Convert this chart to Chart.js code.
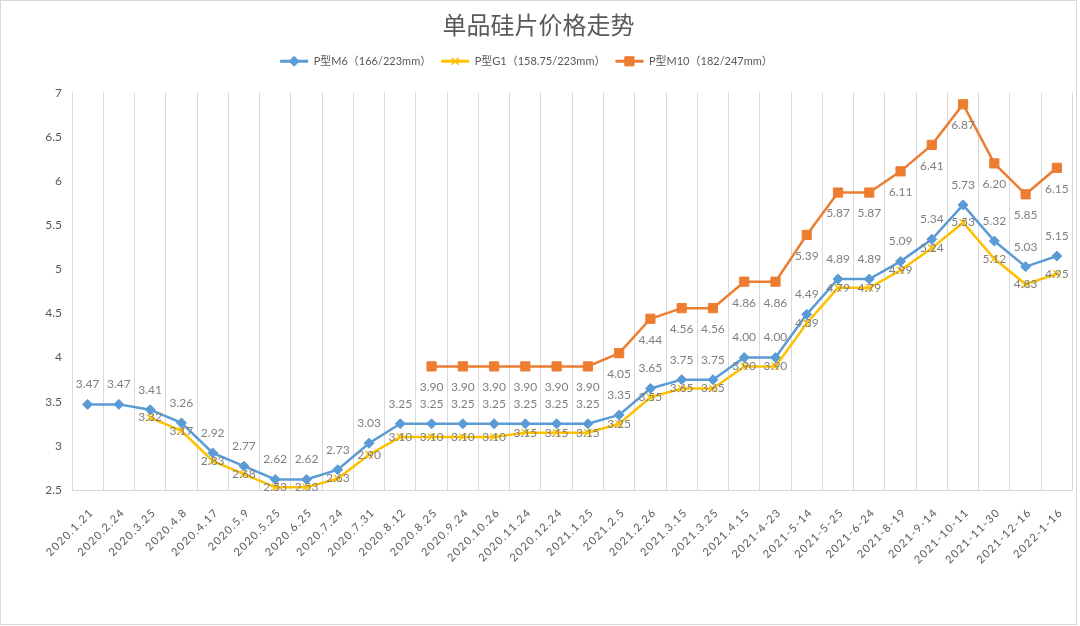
<!DOCTYPE html>
<html>
<head>
<meta charset="utf-8">
<script src="https://cdn.jsdelivr.net/npm/chart.js@4/dist/chart.umd.min.js"></script>
<style>
html,body{margin:0;padding:0;background:#fff;}
#wrap{position:relative;width:1080px;height:626px;}
</style>
</head>
<body>
<div id="wrap"><canvas id="c"></canvas></div>
<script>
const categories = ['2020.1.21','2020.2.24','2020.3.25','2020.4.8','2020.4.17','2020.5.9','2020.5.25','2020.6.25','2020.7.24','2020.7.31','2020.8.12','2020.8.25','2020.9.24','2020.10.26','2020.11.24','2020.12.24','2021.1.25','2021.2.5','2021.2.26','2021.3.15','2021.3.25','2021.4.15','2021-4-23','2021-5-14','2021-5-25','2021-6-24','2021-8-19','2021-9-14','2021-10-11','2021-11-30','2021-12-16','2022-1-16'];
const m6Values = [3.47,3.47,3.41,3.26,2.92,2.77,2.62,2.62,2.73,3.03,3.25,3.25,3.25,3.25,3.25,3.25,3.25,3.35,3.65,3.75,3.75,4.00,4.00,4.49,4.89,4.89,5.09,5.34,5.73,5.32,5.03,5.15];
const g1Values = [null,null,3.32,3.17,2.83,2.68,2.53,2.53,2.63,2.90,3.10,3.10,3.10,3.10,3.15,3.15,3.15,3.25,3.55,3.65,3.65,3.90,3.90,4.39,4.79,4.79,4.99,5.24,5.53,5.12,4.83,4.95];
const m10Values = [null,null,null,null,null,null,null,null,null,null,null,3.90,3.90,3.90,3.90,3.90,3.90,4.05,4.44,4.56,4.56,4.86,4.86,5.39,5.87,5.87,6.11,6.41,6.87,6.20,5.85,6.15];
const seriesNames = ['P型M6（166/223mm）','P型G1（158.75/223mm）','P型M10（182/247mm）'];
const yTicks = [2.5,3,3.5,4,4.5,5,5.5,6,6.5,7];
const titleText = '单品硅片价格走势';

const COLORS = ['#5b9bd5','#ffc000','#ed7d31'];
const LABEL_OFFSETS = [-20, 0, 21];
const FONT = "Lato, 'Noto Sans CJK SC', sans-serif";
const LEGEND_SHIFT = -12;

const spacerPlugin = {
  id: 'spacer',
  beforeInit(chart) {
    const box = {
      position: 'top', weight: 0, fullSize: true, options: {},
      left: 0, top: 0, right: 0, bottom: 0, width: 0, height: 0,
      isHorizontal() { return true; },
      update(maxWidth) { this.width = maxWidth; this.height = 16; },
      draw() {}
    };
    Chart.layouts.addBox(chart, box);
  }
};

const framePlugin = {
  id: 'frame',
  beforeDraw(chart) {
    const ctx = chart.ctx;
    ctx.save();
    ctx.fillStyle = '#fff';
    ctx.fillRect(0, 0, chart.width, chart.height);
    ctx.strokeStyle = '#d9d9d9';
    ctx.lineWidth = 1;
    ctx.strokeRect(0.5, 0.5, 1076, 624);
    ctx.restore();
    const xs = chart.scales.x;
    if (xs && !xs._lsPatched) {
      const orig = xs.drawLabels;
      xs.drawLabels = function(ca) {
        const c = this.ctx;
        c.save();
        c.letterSpacing = '1.3px';
        orig.call(this, ca);
        c.restore();
      };
      xs._lsPatched = true;
    }
    const lg = chart.legend;
    if (lg && !lg._shiftPatched) {
      const origDraw = lg.draw;
      lg.draw = function(ca) {
        const c = this.ctx;
        c.save();
        c.translate(LEGEND_SHIFT, 0);
        origDraw.call(this, ca);
        c.restore();
      };
      lg._shiftPatched = true;
    }
  }
};

const valueLabelPlugin = {
  id: 'valueLabels',
  afterDatasetsDraw(chart) {
    const ctx = chart.ctx;
    ctx.save();
    ctx.font = '12px ' + FONT;
    ctx.fillStyle = '#7f7f7f';
    ctx.textAlign = 'center';
    ctx.textBaseline = 'middle';
    chart.data.datasets.forEach((ds, di) => {
      const meta = chart.getDatasetMeta(di);
      meta.data.forEach((pt, i) => {
        const v = ds.data[i];
        if (v === null || v === undefined) return;
        ctx.fillText(v.toFixed(2), pt.x, pt.y + LABEL_OFFSETS[di]);
      });
    });
    ctx.restore();
  }
};

const legendMarkerPlugin = {
  id: 'legendMarkers',
  afterDraw(chart) {
    const lg = chart.legend;
    if (!lg || !lg.legendHitBoxes) return;
    const ctx = chart.ctx;
    const bw = lg.options.labels.boxWidth;
    const fs = lg.options.labels.font.size;
    lg.legendHitBoxes.forEach((hb, i) => {
      const di = lg.legendItems[i].datasetIndex;
      const ds = chart.data.datasets[di];
      const cx = hb.left + bw / 2 + LEGEND_SHIFT;
      const cy = hb.top + fs / 2;
      ctx.save();
      ctx.fillStyle = COLORS[di];
      ctx.strokeStyle = COLORS[di];
      ctx.lineWidth = ds.pointBorderWidth;
      Chart.helpers.drawPoint(ctx, {pointStyle: ds.pointStyle, radius: ds.pointRadius, borderWidth: ds.pointBorderWidth, rotation: 0}, cx, cy);
      ctx.restore();
    });
  }
};

const datasets = [
  {label: seriesNames[0], data: m6Values, borderColor: COLORS[0], backgroundColor: COLORS[0], borderWidth: 2.5, pointStyle: 'rectRot', pointRadius: 5, pointBorderWidth: 1, order: 3},
  {label: seriesNames[1], data: g1Values, borderColor: COLORS[1], backgroundColor: COLORS[1], borderWidth: 2.5, pointStyle: 'crossRot', pointRadius: 5, pointBorderWidth: 1.5, order: 2},
  {label: seriesNames[2], data: m10Values, borderColor: COLORS[2], backgroundColor: COLORS[2], borderWidth: 2.5, pointStyle: 'rect', pointRadius: 6.5, pointBorderWidth: 1, order: 1}
];

new Chart(document.getElementById('c'), {
  type: 'line',
  data: {labels: categories, datasets: datasets},
  options: {
    responsive: true,
    maintainAspectRatio: false,
    animation: false,
    layout: {padding: {top: 0, left: 0, right: 3, bottom: 36}},
    elements: {line: {tension: 0}},
    plugins: {
      title: {
        display: true,
        text: titleText,
        color: '#595959',
        font: {family: "'Noto Sans CJK SC', sans-serif", size: 24, weight: 'normal'},
        padding: {top: 10, bottom: 7}
      },
      legend: {
        display: true,
        position: 'top',
        labels: {
          color: '#595959',
          font: {family: FONT, size: 11},
          boxWidth: 28,
          boxHeight: 3,
          padding: 10,
          sort: (a, b) => a.datasetIndex - b.datasetIndex,
          generateLabels(chart) {
            return Chart.defaults.plugins.legend.labels.generateLabels(chart).map(l => Object.assign(l, {lineWidth: 0, fillStyle: l.strokeStyle}));
          }
        }
      },
      tooltip: {enabled: false}
    },
    scales: {
      x: {
        offset: true,
        grid: {display: true, offset: true, color: '#d9d9d9', lineWidth: 1, drawTicks: false},
        border: {display: true, color: '#d9d9d9', width: 1},
        ticks: {autoSkip: false, maxRotation: 45, minRotation: 45, color: '#595959', font: {family: FONT, size: 11}, padding: 16, labelOffset: 4},
        afterFit(scale) { scale.height = 100; scale.paddingLeft = 0; scale.paddingRight = 0; }
      },
      y: {
        min: 2.5,
        max: 7,
        afterBuildTicks(scale) { scale.ticks = yTicks.map(v => ({value: v})); },
        grid: {display: false, drawTicks: false},
        border: {display: false},
        ticks: {color: '#595959', font: {family: FONT, size: 12}, padding: 10, callback: (v) => String(v)},
        afterFit(scale) { scale.width = 72; }
      }
    }
  },
  plugins: [spacerPlugin, framePlugin, valueLabelPlugin, legendMarkerPlugin]
});
</script>
</body>
</html>
